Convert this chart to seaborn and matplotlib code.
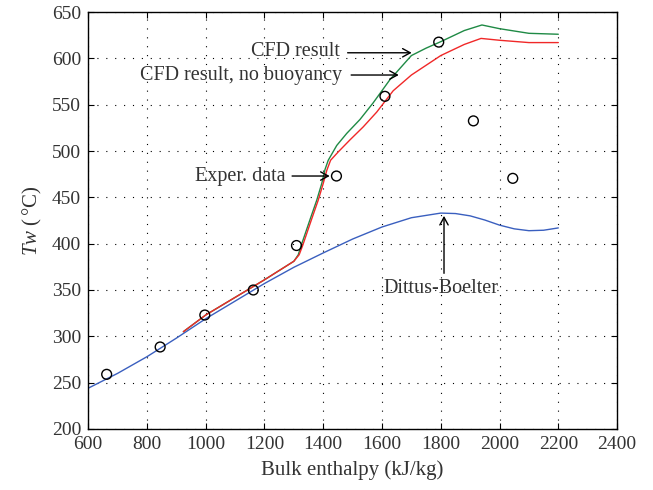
import matplotlib
matplotlib.use("Agg")
import matplotlib.pyplot as plt
import seaborn as sns
import pandas as pd

# experimental wall temperature
exp_h = [663, 845, 997, 1162, 1309, 1445, 1610, 1793, 1911, 2045]
exp_t = [259, 288.5, 323, 350, 398, 473, 559, 617.5, 532.5, 470.5]

# Dittus-Boelter correlation
db_h = [600, 700, 800, 900, 1000, 1100, 1200, 1300, 1400, 1500, 1600, 1700,
        1800, 1850, 1900, 1950, 2000, 2050, 2100, 2150, 2200]
db_t = [244, 260, 278, 298, 319, 338, 357, 374.5, 390, 405, 418, 428,
        433, 432.5, 430, 425.5, 420, 416, 414, 414.5, 417]

# CFD result
cfd_h = [924, 1000, 1100, 1200, 1280, 1300, 1315, 1327, 1340, 1355, 1378, 1395,
         1406, 1417, 1446, 1480, 1525, 1570, 1627, 1700, 1750, 1800, 1880, 1940,
         2000, 2100, 2200]
cfd_t = [305, 323, 342, 361, 377, 381, 388, 400, 412, 426, 447, 465,
         480, 490, 506, 519, 534, 552, 577, 603, 611, 618, 630, 636,
         632, 627, 626]

# CFD result, no buoyancy
nb_h = [924, 1000, 1100, 1200, 1280, 1300, 1318, 1330, 1345, 1360, 1383, 1400,
        1412, 1425, 1451, 1491, 1536, 1582, 1638, 1700, 1800, 1880, 1937, 2000,
        2100, 2200]
nb_t = [305, 323, 342, 361, 377, 381, 388, 398, 412, 426, 447, 465,
        479, 490, 499, 512, 526, 542, 565, 582, 603, 615, 621.5, 619.5,
        617, 617]

sns.set_style("ticks")
plt.rcParams['font.family'] = ['Liberation Serif', 'DejaVu Serif']
plt.rcParams['mathtext.fontset'] = 'custom'
plt.rcParams['mathtext.rm'] = 'Liberation Serif'
plt.rcParams['mathtext.it'] = 'Liberation Serif:italic'

txt = '#333333'
fig = plt.figure(figsize=(6.53, 4.90), dpi=100)
ax = fig.add_axes([0.135, 0.1245, 0.81, 0.851])

sns.lineplot(x=db_h, y=db_t, color='#3a5fbf', lw=1.0, ax=ax, sort=False)
sns.lineplot(x=cfd_h, y=cfd_t, color='#1f8a45', lw=1.0, ax=ax, sort=False)
sns.lineplot(x=nb_h, y=nb_t, color='#f02828', lw=1.0, ax=ax, sort=False)
sns.scatterplot(x=exp_h, y=exp_t, marker='o', facecolor='none', edgecolor='black',
                linewidth=1.0, s=50, ax=ax, zorder=5)

ax.set_xlim(600, 2400)
ax.set_ylim(200, 650)
ax.set_xticks(range(600, 2401, 200))
ax.set_yticks(range(200, 651, 50))
ax.grid(True, color='black', linestyle=(0, (1, 7)), linewidth=0.8)
ax.tick_params(direction='in', top=True, right=True, length=4, labelsize=14,
               colors='black', labelcolor=txt, pad=5)
for s in ax.spines.values():
    s.set_color('black')
    s.set_linewidth(1.0)

ax.set_xlabel('Bulk enthalpy (kJ/kg)', fontsize=15, color=txt, labelpad=5)
ax.set_ylabel(r'$Tw$ ($\,$°C)', fontsize=15, color=txt, labelpad=6)

arrow = dict(arrowstyle='->,head_length=0.55,head_width=0.3', color='black', lw=1.0,
             shrinkA=0, shrinkB=0)
ax.text(1456, 607, 'CFD result', ha='right', va='center', fontsize=14.5, color=txt)
ax.annotate('', xy=(1701, 606), xytext=(1483, 606), arrowprops=arrow)
ax.text(1465, 581, 'CFD result, no buoyancy', ha='right', va='center', fontsize=14.5,
        color=txt)
ax.annotate('', xy=(1657, 582), xytext=(1495, 582), arrowprops=arrow)
ax.text(1270, 473, 'Exper. data', ha='right', va='center', fontsize=14.5, color=txt)
ax.annotate('', xy=(1422, 473), xytext=(1294, 473), arrowprops=arrow)
ax.annotate('', xy=(1811, 430), xytext=(1811, 368), arrowprops=arrow)
ax.text(1800, 352, 'Dittus-Boelter', ha='center', va='center', fontsize=14.5, color=txt)

fig.savefig('out.png', dpi=100)
